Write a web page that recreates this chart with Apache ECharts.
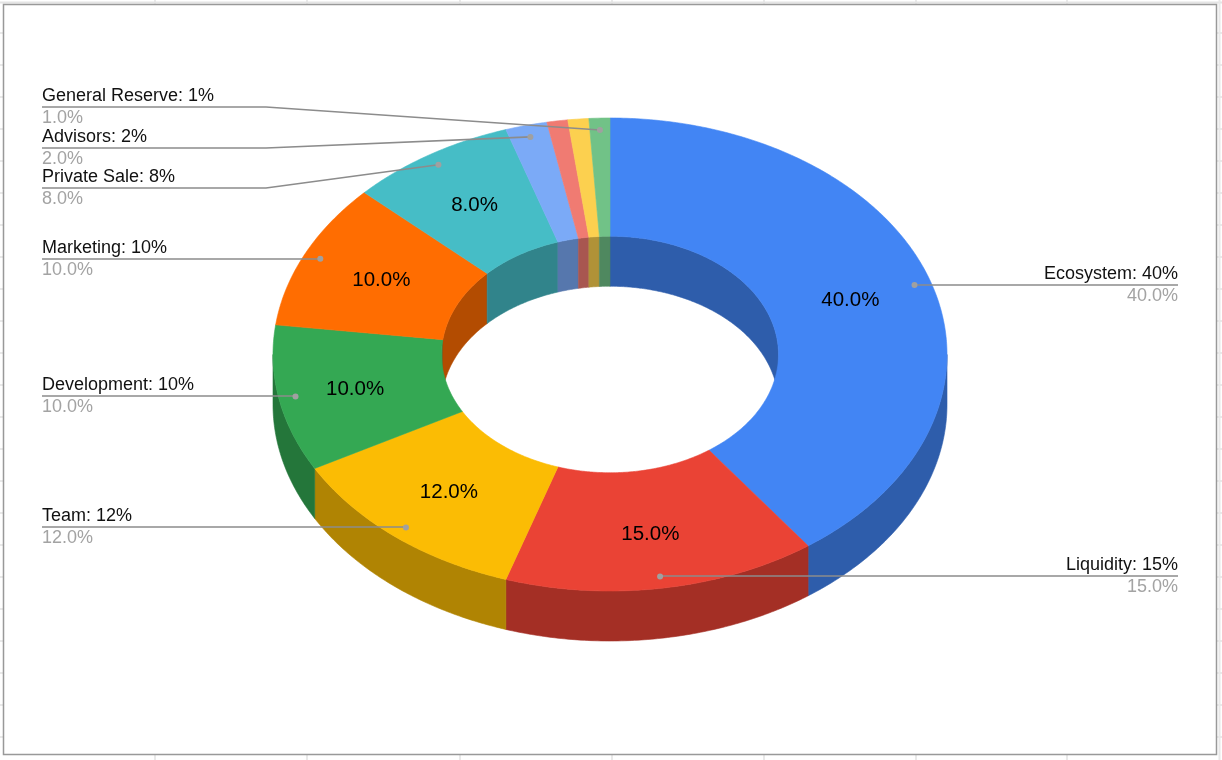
<!DOCTYPE html>
<html>
<head>
<meta charset="utf-8">
<style>html,body{margin:0;padding:0;background:#fff}#chart{width:1222px;height:760px}</style>
<script src="https://cdn.jsdelivr.net/npm/echarts@6/dist/echarts.min.js"></script>
</head>
<body>
<div id="chart"></div>
<script>
// Data, clockwise from 12 o'clock. Two 1% slices carry no label in the picture.
const categories = ['Ecosystem', 'Liquidity', 'Team', 'Development', 'Marketing', 'Private Sale', 'Advisors', '', '', 'General Reserve'];
const shares = [40, 15, 12, 10, 10, 8, 2, 1, 1, 1];
const colors = ['#4285f4', '#ea4335', '#fbbc04', '#34a853', '#ff6d01', '#46bdc6', '#7baaf7', '#f07b72', '#fcd04f', '#71c287'];

// Layout of the tilted ring and its leaders
const ring = { cx: 610, cy: 354.5, rx: 337, ry: 236.5, hole: 0.5, depth: 50 };
const innerLabelRadius = [0.75, 0.765, 0.75, 0.77, 0.75, 0.75, 0, 0, 0, 0];
const leaderLineY = [285, 576, 527, 396, 259, 188, 148, 0, 0, 107];
const leaderSide = [1, 1, -1, -1, -1, -1, -1, 0, 0, -1];
const leftX = 42, rightX = 1178, elbowX = 266;
const FONT = '"Liberation Sans", Arial, sans-serif';
const total = shares.reduce((a, b) => a + b, 0);
const starts = [];
shares.reduce((acc, v, i) => { starts[i] = acc; return acc + v; }, 0);
const angleOf = s => s / total * Math.PI * 2;

function pt(theta, k, dy) {
  return [ring.cx + ring.rx * k * Math.sin(theta), ring.cy - ring.ry * k * Math.cos(theta) + (dy || 0)];
}
function arc(a, b, k, dy) {
  const n = Math.max(2, Math.ceil(Math.abs(b - a) / 0.01)), out = [];
  for (let i = 0; i <= n; i++) out.push(pt(a + (b - a) * i / n, k, dy));
  return out;
}
function shade(hex, f) {
  const n = parseInt(hex.slice(1), 16);
  const c = [n >> 16, (n >> 8) & 255, n & 255].map(v => Math.round(v * f));
  return 'rgb(' + c.join(',') + ')';
}
function poly(points, fill) {
  return { type: 'polygon', shape: { points }, style: { fill, stroke: fill, lineWidth: 0.6 } };
}
// Clip an angular range to a window, trying the window one turn around as well
function clip(a, b, lo, hi) {
  const out = [];
  [-2, -1, 0, 1].forEach(t => {
    const s = Math.max(a, lo + t * 2 * Math.PI), e = Math.min(b, hi + t * 2 * Math.PI);
    if (e > s) out.push([s, e]);
  });
  return out;
}

function renderWalls(params, api) {
  const i = params.dataIndex;
  const a = angleOf(starts[i]), b = angleOf(starts[i] + api.value(0));
  const dark = shade(colors[i], 0.7), children = [];
  clip(a, b, Math.PI / 2, Math.PI * 1.5).forEach(([s, e]) => {
    children.push(poly(arc(s, e, 1, 0).concat(arc(e, s, 1, ring.depth)), dark));
  });
  clip(a, b, -Math.PI / 2, Math.PI / 2).forEach(([s, e]) => {
    children.push(poly(arc(s, e, ring.hole, 0).concat(arc(e, s, ring.hole, ring.depth)), dark));
  });
  return { type: 'group', children };
}
function renderTop(params, api) {
  const i = params.dataIndex;
  const a = angleOf(starts[i]), b = angleOf(starts[i] + api.value(0));
  return poly(arc(a, b, 1, 0).concat(arc(b, a, ring.hole, 0)), colors[i]);
}
function renderLabels(params, api) {
  const i = params.dataIndex, v = api.value(0), children = [];
  const mid = angleOf(starts[i] + v / 2);
  if (innerLabelRadius[i]) {
    const p = pt(mid, innerLabelRadius[i], 1);
    children.push({ type: 'text', style: { x: p[0], y: p[1], text: v.toFixed(1) + '%', fill: '#000',
      font: '20.5px ' + FONT, align: 'center', verticalAlign: 'middle' } });
  }
  if (categories[i]) {
    const d = pt(mid, 0.95), y = leaderLineY[i], side = leaderSide[i];
    const endX = side > 0 ? rightX : leftX;
    const pts = Math.abs(d[1] - y) > 3 ? [d, [elbowX, y], [endX, y]] : [d, [d[0], y], [endX, y]];
    children.push({ type: 'polyline', shape: { points: pts }, style: { fill: null, stroke: '#8c8c8c', lineWidth: 1.6 } });
    children.push({ type: 'circle', shape: { cx: d[0], cy: d[1], r: 3 }, style: { fill: '#a0a0a0' } });
    const align = side > 0 ? 'right' : 'left';
    children.push({ type: 'text', style: { x: endX, y: y - 11, text: categories[i] + ': ' + v + '%', fill: '#111',
      font: '18px ' + FONT, align, verticalAlign: 'middle' } });
    children.push({ type: 'text', style: { x: endX, y: y + 11.5, text: v.toFixed(1) + '%', fill: '#a3a3a3',
      font: '18px ' + FONT, align, verticalAlign: 'middle' } });
  }
  return { type: 'group', children };
}

// Spreadsheet frame behind the chart
const sheet = [];
const gridStroke = { stroke: '#e2e2e2', lineWidth: 1.5 };
const line = (x1, y1, x2, y2, style) => ({ type: 'line', silent: true, shape: { x1, y1, x2, y2 }, style });
[155, 307, 460, 612, 764, 916, 1067].forEach(x => {
  sheet.push(line(x, 0, x, 4, gridStroke), line(x, 755, x, 760, gridStroke));
});
for (let y = 33; y < 760; y += 32) {
  sheet.push(line(0, y, 3, y, gridStroke), line(1217, y, 1222, y, gridStroke));
}
sheet.push(line(0, 2.5, 1222, 2.5, { stroke: '#e4e4e4', lineWidth: 2 }));
sheet.push(line(1219.5, 0, 1219.5, 760, { stroke: '#e8e8e8', lineWidth: 2 }));
sheet.push({ type: 'rect', silent: true, shape: { x: 3.5, y: 4.5, width: 1213, height: 750 },
  style: { fill: '#fff', stroke: '#999', lineWidth: 1.5 }, z: 1 });

const chart = echarts.init(document.getElementById('chart'), null, { renderer: 'canvas' });
const base = { type: 'custom', coordinateSystem: 'none', silent: true, animation: false, clip: false, data: shares.map(v => [v]), encode: { value: 0 } };
chart.setOption({
  animation: false,
  backgroundColor: '#fff',
  graphic: { elements: sheet },
  series: [
    Object.assign({}, base, { name: 'walls', renderItem: renderWalls, z: 2 }),
    Object.assign({}, base, { name: 'top', renderItem: renderTop, z: 3 }),
    Object.assign({}, base, { name: 'labels', renderItem: renderLabels, z: 4 })
  ]
});
</script>
</body>
</html>
